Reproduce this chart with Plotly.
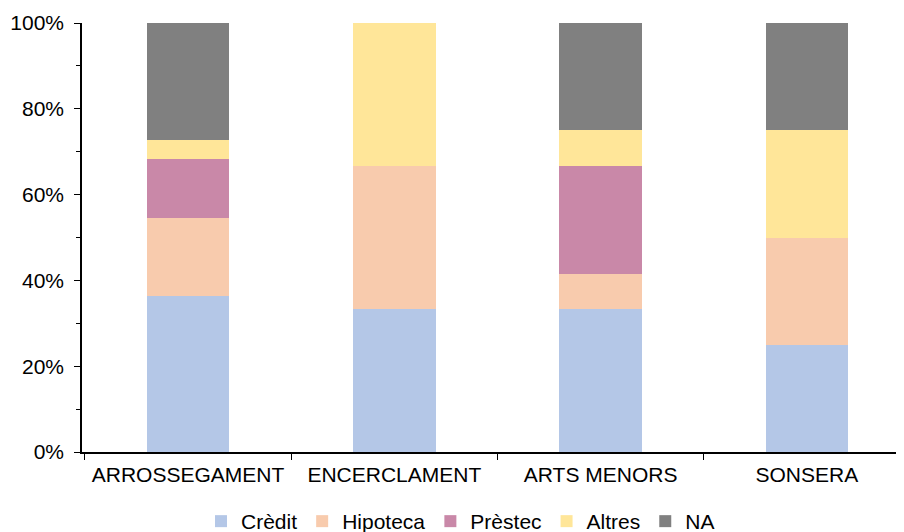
import plotly.graph_objects as go

categories = ["ARROSSEGAMENT", "ENCERCLAMENT", "ARTS MENORS", "SONSERA"]
credit = [36.4, 33.3, 33.3, 25.0]
hipoteca = [18.2, 33.3, 8.3, 25.0]
prestec = [13.6, 0.0, 25.0, 0.0]
altres = [4.5, 33.4, 8.4, 25.0]
na = [27.3, 0.0, 25.0, 25.0]

series = [
    ("Crèdit", credit, "#B4C7E7"),
    ("Hipoteca", hipoteca, "#F8CBAD"),
    ("Prèstec", prestec, "#C988A8"),
    ("Altres", altres, "#FFE699"),
    ("NA", na, "#808080"),
]

fig = go.Figure()
for name, vals, col in series:
    fig.add_trace(go.Bar(x=categories, y=[v / 100 for v in vals], name=name,
                         marker=dict(color=col, line=dict(width=0)), width=0.4))

font = "Liberation Sans, Arial, Helvetica, sans-serif"
fig.update_layout(
    barmode="stack",
    width=896, height=524,
    margin=dict(l=74, r=0, t=15, b=80, autoexpand=False),
    plot_bgcolor="white", paper_bgcolor="white",
    font=dict(family=font, size=21, color="black"),
    showlegend=True,
    legend=dict(orientation="h", xref="container", yref="paper",
                x=0.505, xanchor="center", y=-0.162, yanchor="middle",
                font=dict(size=21), traceorder="normal"),
    xaxis=dict(showline=True, linecolor="black", linewidth=1.5,
               ticks="outside", tickson="boundaries", ticklen=6, tickcolor="black",
               range=[-0.514, 3.471], showgrid=False, tickfont=dict(size=21),
               ticklabelstandoff=3),
    yaxis=dict(showline=True, linecolor="black", linewidth=1.5,
               range=[0, 1], tickformat=".0%", dtick=0.2,
               ticks="outside", ticklen=6, tickcolor="black",
               minor=dict(ticks="outside", dtick=0.1, ticklen=4, tickcolor="black"),
               showgrid=False, zeroline=False, tickfont=dict(size=21),
               ticklabelstandoff=6),
)

fig.write_html("out.html")
